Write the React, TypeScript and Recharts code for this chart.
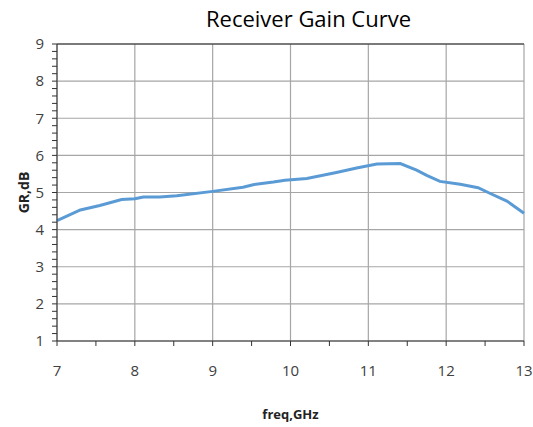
import { LineChart, Line, XAxis, YAxis, CartesianGrid, ReferenceLine } from "recharts";

// frequency (GHz) and receiver gain (dB)
const freq = [7.0, 7.3, 7.55, 7.83, 8.0, 8.11, 8.32, 8.54, 9.0, 9.39, 9.52, 9.78, 9.93, 10.21, 10.59, 10.85, 11.11, 11.41, 11.62, 11.75, 11.92, 12.18, 12.41, 12.56, 12.78, 13.0];
const gain = [4.24, 4.53, 4.65, 4.81, 4.83, 4.88, 4.88, 4.91, 5.03, 5.14, 5.21, 5.28, 5.33, 5.38, 5.54, 5.66, 5.77, 5.78, 5.6, 5.46, 5.3, 5.22, 5.13, 4.98, 4.77, 4.44];

const xMajor = [7, 8, 9, 10, 11, 12, 13];
const xTicks = [7, 7.5, 8, 8.5, 9, 9.5, 10, 10.5, 11, 11.5, 12, 12.5, 13];
const yMajor = [1, 2, 3, 4, 5, 6, 7, 8, 9];
const yTicks = [1, 1.2, 1.4, 1.6, 1.8, 2, 2.2, 2.4, 2.6, 2.8, 3, 3.2, 3.4, 3.6, 3.8, 4, 4.2, 4.4, 4.6, 4.8, 5, 5.2, 5.4, 5.6, 5.8, 6, 6.2, 6.4, 6.6, 6.8, 7, 7.2, 7.4, 7.6, 7.8, 8, 8.2, 8.4, 8.6, 8.8, 9];

const data = freq.map((f, i) => ({ freq: f, gain: gain[i] }));

const FONT = "'Open Sans', 'Liberation Sans', sans-serif";

const isMajor = (v: number) => Math.abs(v - Math.round(v)) < 1e-6;

const XTick = (props: any) => {
  const { x, y, payload } = props;
  if (!isMajor(payload.value)) return null;
  return (
    <text x={x} y={y} dy="0.71em" textAnchor="middle" fontSize={15} fill="#404040" fontFamily={FONT}>
      {payload.value}
    </text>
  );
};

const YTick = (props: any) => {
  const { x, y, payload } = props;
  if (!isMajor(payload.value)) return null;
  return (
    <text x={x} y={y} dy="0.35em" textAnchor="end" fontSize={15} fill="#404040" fontFamily={FONT}>
      {Math.round(payload.value)}
    </text>
  );
};

export default function App() {
  return (
    <div style={{ position: "absolute", left: 0, top: 0, width: 533, height: 427, background: "#fff" }}>
      <div
        style={{
          position: "absolute",
          left: 0,
          top: 3,
          width: 617,
          textAlign: "center",
          fontFamily: FONT,
          fontSize: 22,
          color: "#000",
        }}
      >
        Receiver Gain Curve
      </div>
      <LineChart width={533} height={427} data={data} margin={{ top: 44, right: 9, left: 0, bottom: 0 }}>
        <CartesianGrid
          stroke="#a6a6a6"
          strokeWidth={1.2}
          horizontalValues={yMajor}
          verticalValues={xMajor}
        />
        <ReferenceLine y={9} stroke="#222" strokeWidth={1.2} />
        <XAxis
          type="number"
          dataKey="freq"
          domain={[7, 13]}
          ticks={xTicks}
          interval={0}
          height={86}
          stroke="#333"
          tickSize={5}
          tickMargin={19}
          tick={<XTick />}
          label={{
            value: "freq,GHz",
            position: "insideBottom",
            offset: 8,
            fontSize: 13,
            fontWeight: "bold",
            fill: "#222",
            fontFamily: FONT,
          }}
        />
        <YAxis
          type="number"
          domain={[1, 9]}
          ticks={yTicks}
          interval={0}
          width={57}
          stroke="#333"
          tickSize={5}
          tickMargin={8}
          tick={<YTick />}
          label={{
            value: "GR,dB",
            angle: -90,
            position: "insideLeft",
            offset: 24,
            fontSize: 14,
            fontWeight: "bold",
            fill: "#222",
            fontFamily: FONT,
            style: { textAnchor: "middle" },
          }}
        />
        <Line
          type="linear"
          dataKey="gain"
          stroke="#5b9bd5"
          strokeWidth={3}
          dot={false}
          isAnimationActive={false}
        />
      </LineChart>
    </div>
  );
}
